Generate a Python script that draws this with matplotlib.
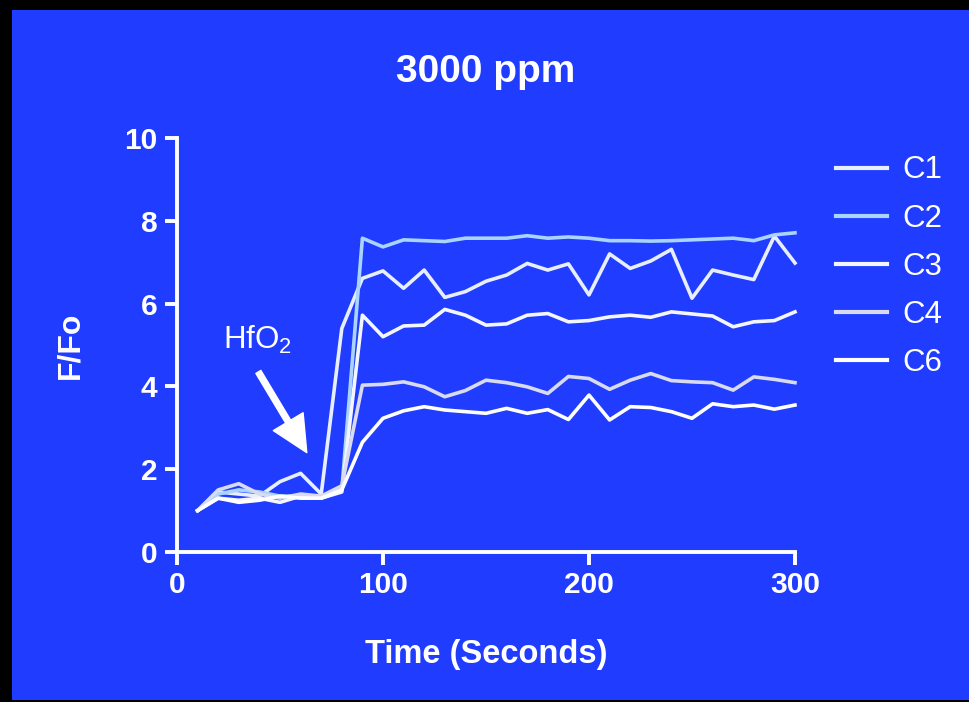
import numpy as np
import matplotlib.pyplot as plt
from matplotlib.patches import Rectangle

# data
time = [10, 20, 30, 40, 50, 60, 70, 80, 90, 100, 110, 120, 130, 140, 150,
        160, 170, 180, 190, 200, 210, 220, 230, 240, 250, 260, 270, 280, 290, 300]
c1 = [1.0, 1.45, 1.4, 1.35, 1.7, 1.9, 1.4, 5.4, 6.61, 6.79, 6.37, 6.81, 6.15, 6.29, 6.54,
      6.69, 6.97, 6.81, 6.96, 6.21, 7.20, 6.85, 7.03, 7.31, 6.13, 6.81, 6.69, 6.58, 7.63, 6.98]
c2 = [1.0, 1.4, 1.5, 1.45, 1.35, 1.35, 1.3, 1.5, 7.58, 7.37, 7.54, 7.52, 7.50, 7.58, 7.58,
      7.58, 7.64, 7.58, 7.61, 7.58, 7.52, 7.52, 7.51, 7.52, 7.54, 7.56, 7.58, 7.52, 7.66, 7.71]
c3 = [1.0, 1.3, 1.25, 1.3, 1.2, 1.35, 1.3, 1.45, 5.72, 5.20, 5.46, 5.48, 5.86, 5.72, 5.48,
      5.51, 5.72, 5.76, 5.56, 5.59, 5.68, 5.72, 5.67, 5.80, 5.75, 5.70, 5.44, 5.56, 5.59, 5.80]
c4 = [1.0, 1.5, 1.65, 1.4, 1.3, 1.4, 1.35, 1.6, 4.03, 4.05, 4.11, 3.99, 3.75, 3.90, 4.15,
      4.09, 3.99, 3.83, 4.24, 4.19, 3.93, 4.15, 4.31, 4.14, 4.11, 4.09, 3.91, 4.23, 4.17, 4.09]
c6 = [1.0, 1.3, 1.2, 1.25, 1.35, 1.3, 1.3, 1.5, 2.65, 3.23, 3.41, 3.51, 3.43, 3.39, 3.35,
      3.47, 3.35, 3.44, 3.20, 3.79, 3.19, 3.51, 3.49, 3.39, 3.23, 3.58, 3.51, 3.55, 3.45, 3.55]

labels = ["C1", "C2", "C3", "C4", "C6"]
colors = ["#e6eeff", "#a8d4ff", "#f4f6ff", "#d8daf0", "#ffffff"]
series = [c1, c2, c3, c4, c6]

blue = "#1f3cff"
plt.rcParams['font.family'] = ['Liberation Sans', 'DejaVu Sans']
plt.rcParams['mathtext.default'] = 'regular'

fig = plt.figure(figsize=(9.7, 7.02), dpi=100, facecolor="black")
fig.patches.append(Rectangle((12 / 970, 2 / 702), 958 / 970, 690 / 702,
                             transform=fig.transFigure, facecolor=blue,
                             edgecolor="none", zorder=-10))

ax = fig.add_axes([177 / 970, 150 / 702, 618 / 970, 414 / 702])
ax.set_facecolor("none")
ax.set_zorder(2)

for y, lab, col in zip(series, labels, colors):
    ax.plot(time, y, color=col, lw=2.6, label=lab, clip_on=False)

ax.set_xlim(0, 300)
ax.set_ylim(0, 10)
ax.set_xticks([0, 100, 200, 300])
ax.set_yticks([0, 2, 4, 6, 8, 10])
for s in ["top", "right"]:
    ax.spines[s].set_visible(False)
for s in ["left", "bottom"]:
    ax.spines[s].set_color("white")
    ax.spines[s].set_linewidth(2.8)
ax.tick_params(colors="white", width=2.8, length=9, labelsize=21.5, pad=5)
for t in ax.get_xticklabels() + ax.get_yticklabels():
    t.set_fontweight("bold")

# arrow + label
ax.annotate("", xy=(63, 2.4), xytext=(39.5, 4.35),
            arrowprops=dict(facecolor="white", edgecolor="white",
                            width=4.2, headwidth=25, headlength=26, shrink=0))
ax.text(22.5, 4.9, r"HfO$_2$", color="white", fontsize=22.5)

fig.text(486 / 970, 1 - 72 / 702, "3000 ppm", color="white", fontsize=28,
         fontweight="bold", ha="center", va="center")
fig.text(486 / 970, 1 - 655 / 702, "Time (Seconds)", color="white", fontsize=23.5,
         fontweight="bold", ha="center", va="center")
fig.text(70 / 970, 1 - 345 / 702, "F/Fo", color="white", fontsize=23,
         fontweight="bold", ha="center", va="center", rotation=90)

leg = fig.legend(loc="upper left", bbox_to_anchor=(824 / 970, 1 - 143 / 702),
                 frameon=False, fontsize=22.5, handlelength=1.62, handletextpad=0.5,
                 labelspacing=0.58, borderaxespad=0)
for t in leg.get_texts():
    t.set_color("white")
for h in leg.legend_handles:
    h.set_linewidth(3.0)

fig.savefig("out.png", dpi=100, facecolor="black")
